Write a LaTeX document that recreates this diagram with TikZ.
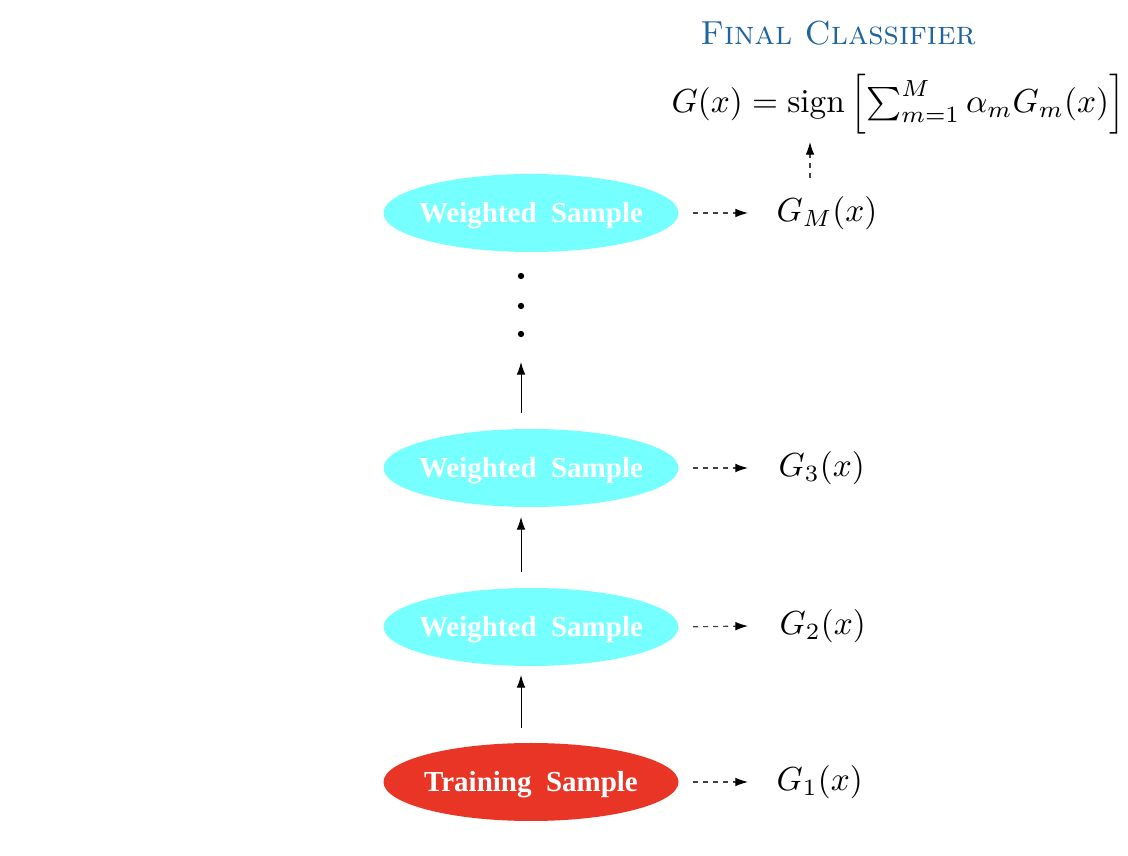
\documentclass[tikz,border=0pt]{standalone}
\usepackage{fontspec}
\usepackage{amsmath}
\newfontfamily\boxfont{Liberation Serif}
\usetikzlibrary{arrows.meta,calc,shapes.geometric}
\definecolor{wcyan}{RGB}{118,255,255}
\definecolor{tred}{RGB}{232,53,38}
\definecolor{ttlblue}{RGB}{30,100,160}
\newcommand{\samptext}[1]{\smash{\makebox[0pt]{\raisebox{-2.9pt}{#1}}}}
\begin{document}
\begin{tikzpicture}[x=0.3pt,y=-0.3pt,
  samp/.style={ellipse,minimum width=88.5pt,minimum height=23.4pt,inner sep=0pt,
    text=white,font=\boxfont\bfseries\fontsize{8.7}{10}\selectfont},
  wsamp/.style={samp,fill=wcyan},
  tsamp/.style={samp,fill=tred},
  glabel/.style={anchor=west,inner sep=0pt,font=\fontsize{10}{12}\selectfont},
  tip/.style={-{Latex[length=3.8pt,width=2.6pt,color=black]}},
  solidarr/.style={tip,line width=0.3pt},
  dasharr/.style={tip,line width=0.35pt,black!75,dash pattern=on 1.5pt off 1.5pt},
  dotmark/.style={circle,fill=black,inner sep=0pt,minimum size=1.9pt}
]
\useasboundingbox (0,0) rectangle (1128,856);
\node[tsamp] (t1) at (531,782) {\samptext{Training\ \ Sample}};
\node[wsamp] (w2) at (531,627) {\samptext{Weighted\ \ Sample}};
\node[wsamp] (w3) at (531,468) {\samptext{Weighted\ \ Sample}};
\node[wsamp] (wm) at (531,213) {\samptext{Weighted\ \ Sample}};

\node[glabel] (g1) at (776,782) {$G_1(x)$};
\node[glabel] (g2) at (779,626) {$G_2(x)$};
\node[glabel] (g3) at (778,468) {$G_3(x)$};
\node[glabel] (gm) at (776,213) {$G_M(x)$};

\node[font=\fontsize{10}{12}\selectfont,inner sep=0pt,anchor=base west,text height=9pt,text depth=3pt] (final) at (671,113)
  {$G(x)=\mathrm{sign}\left[\sum_{m=1}^{M}\alpha_m G_m(x)\right]$};
\node[text=ttlblue,font=\fontsize{10}{12}\selectfont\scshape,inner sep=0pt,text depth=0pt] (title) at (838,33) {Final Classifier};

\node[dotmark] (d1) at (521,334) {};
\node[dotmark] (d2) at (521,306) {};
\node[dotmark] (d3) at (521,276) {};

\coordinate (a1s) at (521,728); \coordinate (a1e) at (521,675);
\coordinate (a2s) at (521,572); \coordinate (a2e) at (521,517);
\coordinate (a3s) at (521,413); \coordinate (a3e) at (521,362);
\draw[solidarr] (a1s) -- (a1e);
\draw[solidarr] (a2s) -- (a2e);
\draw[solidarr] (a3s) -- (a3e);

\draw[dasharr,shorten <=4.2pt] (t1.east) -- ($(g1.west)+(-28,0)$);
\draw[dasharr,shorten <=4.2pt] (w2.east) -- ($(g2.west)+(-31,0)$);
\draw[dasharr,shorten <=4.2pt] (w3.east) -- ($(g3.west)+(-30,0)$);
\draw[dasharr,shorten <=4.2pt] (wm.east) -- ($(gm.west)+(-28,0)$);

\coordinate (ups) at (810,178); \coordinate (upe) at (810,142);
\draw[dasharr] (ups) -- (upe);
\end{tikzpicture}
\end{document}
